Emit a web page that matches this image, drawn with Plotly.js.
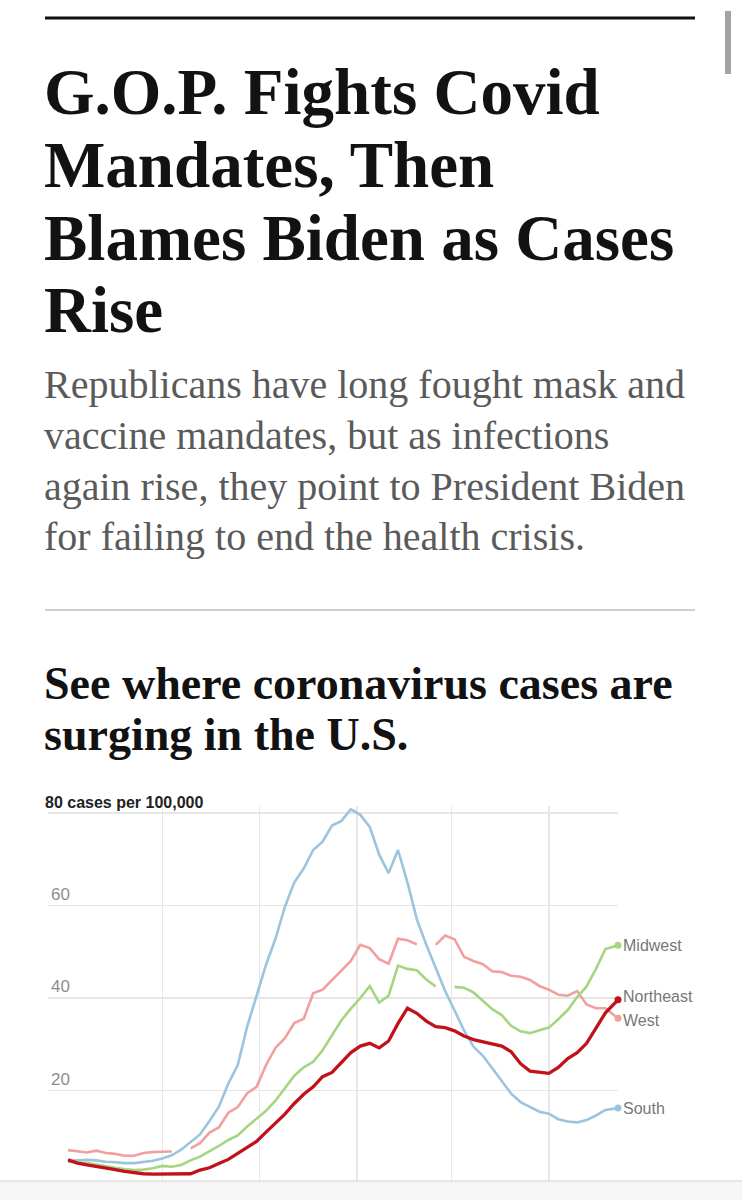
<!DOCTYPE html>
<html>
<head>
<meta charset="utf-8">
<script src="https://cdn.plot.ly/plotly-3.0.1.min.js"></script>
<style>
html,body{margin:0;padding:0;background:#fff;overflow:hidden}
#chart{width:742px;height:1200px}
</style>
</head>
<body>
<div id="chart"></div>
<script>
// ---------- DATA ----------
const dates = [
  '2021-06-01','2021-06-04','2021-06-07','2021-06-10','2021-06-13','2021-06-16','2021-06-19','2021-06-22','2021-06-25','2021-06-28',
  '2021-07-01','2021-07-04','2021-07-07','2021-07-10','2021-07-13','2021-07-16','2021-07-19','2021-07-22','2021-07-25','2021-07-28',
  '2021-07-31','2021-08-03','2021-08-06','2021-08-09','2021-08-12','2021-08-15','2021-08-18','2021-08-21','2021-08-24','2021-08-27',
  '2021-08-30','2021-09-02','2021-09-05','2021-09-08','2021-09-11','2021-09-14','2021-09-17','2021-09-20','2021-09-23','2021-09-26',
  '2021-09-29','2021-10-02','2021-10-05','2021-10-08','2021-10-11','2021-10-14','2021-10-17','2021-10-20','2021-10-23','2021-10-26',
  '2021-10-29','2021-11-01','2021-11-04','2021-11-07','2021-11-10','2021-11-13','2021-11-16','2021-11-19','2021-11-23'
];
const south = [4.8,4.9,5.0,4.9,4.6,4.5,4.3,4.3,4.5,4.8,
  5.3,6.0,7.2,8.8,10.5,13.4,16.5,21.5,25.5,33.8,
  40.4,47.2,52.8,59.7,65.0,68.0,72.0,73.8,77.3,78.3,
  80.8,79.6,77.0,71.0,67.0,72.0,65.0,57.0,51.5,46.5,
  41.5,37.3,33.0,29.5,27.5,24.8,22.0,19.3,17.5,16.4,
  15.4,15.0,13.8,13.3,13.1,13.6,14.6,15.8,16.2];
const west = [7.1,6.8,6.6,7.0,6.5,6.3,5.9,5.9,6.5,6.7,
  6.8,6.8,null,7.5,8.6,10.9,12.0,15.2,16.4,19.4,
  20.8,25.5,29.2,31.3,34.6,35.5,41.0,41.8,43.8,46.0,
  48.0,51.5,50.8,48.4,47.4,52.8,52.5,51.6,null,51.5,
  53.5,52.7,48.9,48.0,47.3,45.8,45.6,44.8,44.6,43.9,
  42.6,41.8,40.7,40.5,41.5,38.6,37.8,37.8,35.6];
const midwest = [4.6,4.5,4.3,4.0,3.6,3.3,3.0,2.8,2.9,3.2,
  3.7,3.5,3.9,4.9,5.7,6.8,8.0,9.3,10.3,12.2,
  14.0,15.6,17.8,20.5,23.2,25.0,26.2,28.7,32.0,35.2,
  37.7,40.0,42.6,39.0,40.5,47.0,46.3,46.0,44.0,42.5,
  null,42.4,42.2,41.2,39.5,37.6,36.3,34.0,32.8,32.4,
  33.0,33.6,35.4,37.4,40.2,42.5,46.3,50.6,51.4];
const northeast = [5.0,4.3,3.9,3.6,3.3,2.9,2.5,2.2,2.0,1.9,
  1.9,1.9,1.9,2.0,2.8,3.3,4.2,5.1,6.4,7.7,
  9.0,11.0,13.0,14.9,17.2,19.2,20.8,23.0,23.9,26.0,
  28.2,29.6,30.2,29.2,30.7,34.5,37.8,36.7,35.0,33.8,
  33.6,32.9,31.8,31.0,30.5,30.1,29.6,28.4,25.8,24.2,
  23.9,23.7,25.0,26.9,28.2,30.2,33.5,36.8,39.6];

const regionNames = ['South','West','Midwest','Northeast'];
const regionValues = [south, west, midwest, northeast];
const yTickVals = [0,20,40,60,80];
const yTickText = ['','20','40','60',''];
const topTickValue = 80;
const unitLabel = 'cases per 100,000';

const headlineLines = ['G.O.P. Fights Covid','Mandates, Then','Blames Biden as Cases','Rise'];
const deckLines = ['Republicans have long fought mask and','vaccine mandates, but as infections','again rise, they point to President Biden','for failing to end the health crisis.'];
const subheadLines = ['See where coronavirus cases are','surging in the U.S.'];

// ---------- STYLE ----------
const W = 742, H = 1200;
const px = x => x / W;
const py = y => 1 - y / H;
const colors = {South:'#9cc4dc', West:'#f19f9f', Midwest:'#a6d580', Northeast:'#c1121b'};
const widths = {South:2.6, West:2.6, Midwest:2.6, Northeast:3.3};
const labelShift = {South:0, West:-2, Midwest:0, Northeast:3};

const traces = regionNames.map((name, i) => ({
  type:'scatter', mode:'lines', name:name,
  x: dates, y: regionValues[i],
  line:{color:colors[name], width:widths[name]},
  connectgaps:false, hoverinfo:'skip', showlegend:false
}));
const lastDate = dates[dates.length-1];
traces.push({
  type:'scatter', mode:'markers',
  x: regionNames.map(() => lastDate),
  y: regionValues.map(v => v[v.length-1]),
  marker:{color: regionNames.map(n => colors[n]), size:7},
  cliponaxis:false, hoverinfo:'skip', showlegend:false
});

const annotations = [];
const textAnn = (text, xPix, yPix, size, color, weight, family) => ({
  text, x: px(xPix), y: py(yPix), xref:'paper', yref:'paper',
  xanchor:'left', yanchor:'middle', showarrow:false,
  font:{family, size, color, weight}
});
const headY = [92, 165, 238, 310];
headlineLines.forEach((t,i) => annotations.push(textAnn(t, 42, headY[i], 65, '#121212', 700, 'Liberation Serif')));
const deckY = [385, 436, 486, 536];
deckLines.forEach((t,i) => annotations.push(textAnn(t, 42, deckY[i], 40, '#5a5a5a', 400, 'Liberation Serif')));
const subY = [684, 734];
subheadLines.forEach((t,i) => annotations.push(textAnn(t, 42, subY[i], 46, '#121212', 700, 'Liberation Serif')));

annotations.push({
  text: '<b>' + topTickValue + '</b> <b>' + unitLabel + '</b>',
  x: px(43), xref:'paper', y: topTickValue, yref:'y',
  xanchor:'left', yanchor:'bottom', yshift:0, showarrow:false,
  font:{family:'Liberation Sans', size:16, color:'#222'}
});
regionNames.forEach((name,i) => {
  const v = regionValues[i];
  annotations.push({
    text:name, x:lastDate, y:v[v.length-1], xref:'x', yref:'y',
    xanchor:'left', yanchor:'middle', xshift:3, yshift:labelShift[name],
    showarrow:false, font:{family:'Liberation Sans', size:16, color:'#777'}
  });
});

const shapes = [
  {type:'line', xref:'paper', yref:'paper', x0:px(45), x1:px(695), y0:py(18), y1:py(18), line:{color:'#111', width:3}},
  {type:'line', xref:'paper', yref:'paper', x0:px(45), x1:px(695), y0:py(610), y1:py(610), line:{color:'#cfcfcf', width:2}},
  {type:'rect', xref:'paper', yref:'paper', x0:px(725), x1:px(731), y0:py(74), y1:py(11), fillcolor:'#a3a3a3', line:{width:0}},
  {type:'rect', xref:'paper', yref:'paper', x0:0, x1:1, y0:0, y1:py(1181), fillcolor:'#f6f6f6', line:{width:0}, layer:'above'},
  {type:'line', xref:'paper', yref:'paper', x0:0, x1:1, y0:py(1181), y1:py(1181), line:{color:'#d2d2d2', width:1}, layer:'above'}
];

const layout = {
  width:W, height:H,
  margin:{l:0, r:0, t:0, b:0, pad:0},
  paper_bgcolor:'#fff', plot_bgcolor:'#fff',
  showlegend:false,
  xaxis:{
    type:'date', domain:[px(48), px(618)],
    range:['2021-05-25 15:00', lastDate],
    tick0:'2021-06-01', dtick:'M1',
    showgrid:true, gridcolor:'#e8e8e8', gridwidth:1.5,
    showticklabels:false, ticks:'', zeroline:false, showline:false, fixedrange:true
  },
  yaxis:{
    domain:[py(1183), py(805.6)],
    range:[0, 81.6],
    tickmode:'array', tickvals:yTickVals, ticktext:yTickText,
    ticklabelposition:'inside top',
    tickfont:{family:'Liberation Sans', size:17, color:'#8e8e8e'},
    showgrid:true, gridcolor:'#e6e6e6', gridwidth:1.5,
    ticks:'', zeroline:false, showline:false, fixedrange:true
  },
  annotations, shapes
};

Plotly.newPlot('chart', traces, layout, {staticPlot:true, displayModeBar:false});
</script>
</body>
</html>
